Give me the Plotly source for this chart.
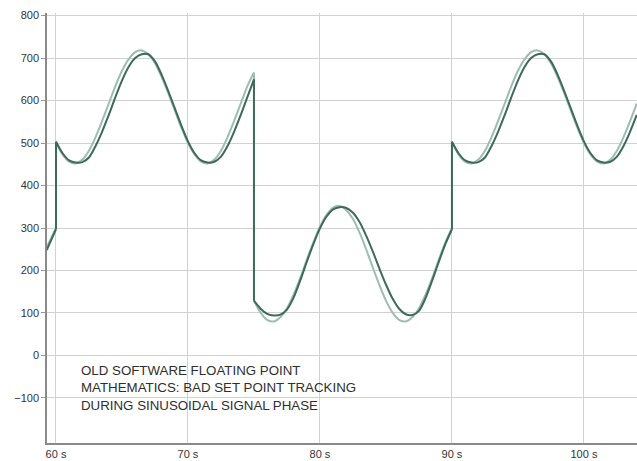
import plotly.graph_objects as go

# Sample times (s); a repeated time marks a step change of the set point
time_s = [
    59.3, 59.5, 60.0,
    60.0, 60.5, 61.0, 61.5, 62.0, 62.5, 63.0, 63.5, 64.0, 64.5, 65.0, 65.5, 66.0, 66.5, 67.0, 67.5,
    68.0, 68.5, 69.0, 69.5, 70.0, 70.5, 71.0, 71.5, 72.0, 72.5, 73.0, 73.5, 74.0, 74.5, 75.0,
    75.0, 75.5, 76.0, 76.5, 77.0, 77.5, 78.0, 78.5, 79.0, 79.5, 80.0, 80.5, 81.0, 81.5, 82.0, 82.5,
    83.0, 83.5, 84.0, 84.5, 85.0, 85.5, 86.0, 86.5, 87.0, 87.5, 88.0, 88.5, 89.0, 89.5, 90.0,
    90.0, 90.5, 91.0, 91.5, 92.0, 92.5, 93.0, 93.5, 94.0, 94.5, 95.0, 95.5, 96.0, 96.5, 97.0, 97.5,
    98.0, 98.5, 99.0, 99.5, 100.0, 100.5, 101.0, 101.5, 102.0, 102.5, 103.0, 103.5, 104.0,
]

# Set point
set_point = [
    255, 268, 300,
    503, 473, 456, 452, 461, 482, 514, 552, 593, 634, 670, 697, 714, 718, 709, 688,
    656, 618, 577, 536, 500, 473, 456, 452, 461, 482, 514, 552, 593, 634, 666,
    129, 101, 84, 80, 90, 111, 143, 182, 225, 266, 303, 331, 348, 352, 342, 321,
    289, 250, 207, 166, 129, 101, 84, 80, 90, 111, 143, 182, 225, 266, 300,
    503, 473, 456, 452, 461, 482, 514, 552, 593, 634, 670, 697, 714, 718, 709, 688,
    656, 618, 577, 536, 500, 473, 456, 452, 461, 482, 514, 552, 593,
]

# Tracked (actual) value
actual = [
    248, 262, 297,
    503, 476, 459, 454, 455, 466, 493, 527, 566, 608, 647, 679, 700, 709, 709, 692,
    661, 623, 582, 541, 504, 476, 459, 454, 456, 468, 493, 527, 566, 608, 650,
    129, 110, 98, 94, 96, 108, 136, 176, 220, 262, 299, 327, 344, 349, 347, 336,
    314, 282, 245, 205, 167, 134, 110, 97, 95, 105, 135, 176, 220, 262, 297,
    503, 476, 459, 454, 455, 466, 493, 527, 566, 608, 647, 679, 700, 709, 709, 692,
    661, 623, 582, 541, 504, 476, 459, 454, 456, 468, 493, 527, 566,
]

x_ticks = [60, 70, 80, 90, 100]
x_tick_text = ["60 s", "70 s", "80 s", "90 s", "100 s"]
y_ticks = [-100, 0, 100, 200, 300, 400, 500, 600, 700, 800]

note = ("OLD SOFTWARE FLOATING POINT<br>"
        "MATHEMATICS: BAD SET POINT TRACKING<br>"
        "DURING SINUSOIDAL SIGNAL PHASE")


def add_signal(fig, t, v, color):
    """Smooth spline between steps, straight vertical line at each step."""
    start = 0
    for i in range(1, len(t) + 1):
        if i == len(t) or t[i] == t[i - 1]:
            fig.add_trace(go.Scatter(
                x=t[start:i], y=v[start:i], mode="lines",
                line=dict(color=color, width=2, shape="spline", smoothing=0.8),
                showlegend=False, hoverinfo="skip",
            ))
            if i < len(t):
                fig.add_trace(go.Scatter(
                    x=t[i - 1:i + 1], y=v[i - 1:i + 1], mode="lines",
                    line=dict(color=color, width=2),
                    showlegend=False, hoverinfo="skip",
                ))
            start = i


fig = go.Figure()
add_signal(fig, time_s, set_point, "#9dbdb2")
add_signal(fig, time_s, actual, "#3e6a5c")

fig.add_annotation(
    text=note, xref="paper", yref="paper", x=0.054, y=0.19,
    xanchor="left", yanchor="top", align="left", showarrow=False,
    font=dict(family="Liberation Sans, Arial, sans-serif", size=13.3, color="#2e2e2e"),
)

fig.update_layout(
    width=637, height=461,
    margin=dict(l=47, r=0, t=13, b=18),
    paper_bgcolor="white", plot_bgcolor="white",
    font=dict(family="Liberation Sans, Arial, sans-serif", size=11, color="#333333"),
    xaxis=dict(
        range=[59.32, 104.02], tickvals=x_ticks, ticktext=x_tick_text,
        showgrid=True, gridcolor="#d2d2d2", gridwidth=1,
        showline=True, linecolor="#8a8a8a", linewidth=2,
        ticks="", zeroline=False, fixedrange=True,
    ),
    yaxis=dict(
        range=[-206, 806], tickvals=y_ticks,
        showgrid=True, gridcolor="#d2d2d2", gridwidth=1,
        showline=True, linecolor="#8a8a8a", linewidth=1.5,
        ticks="outside", ticklen=4, tickcolor="#9a9a9a",
        zeroline=False, fixedrange=True,
    ),
)

fig.write_html("out.html")
